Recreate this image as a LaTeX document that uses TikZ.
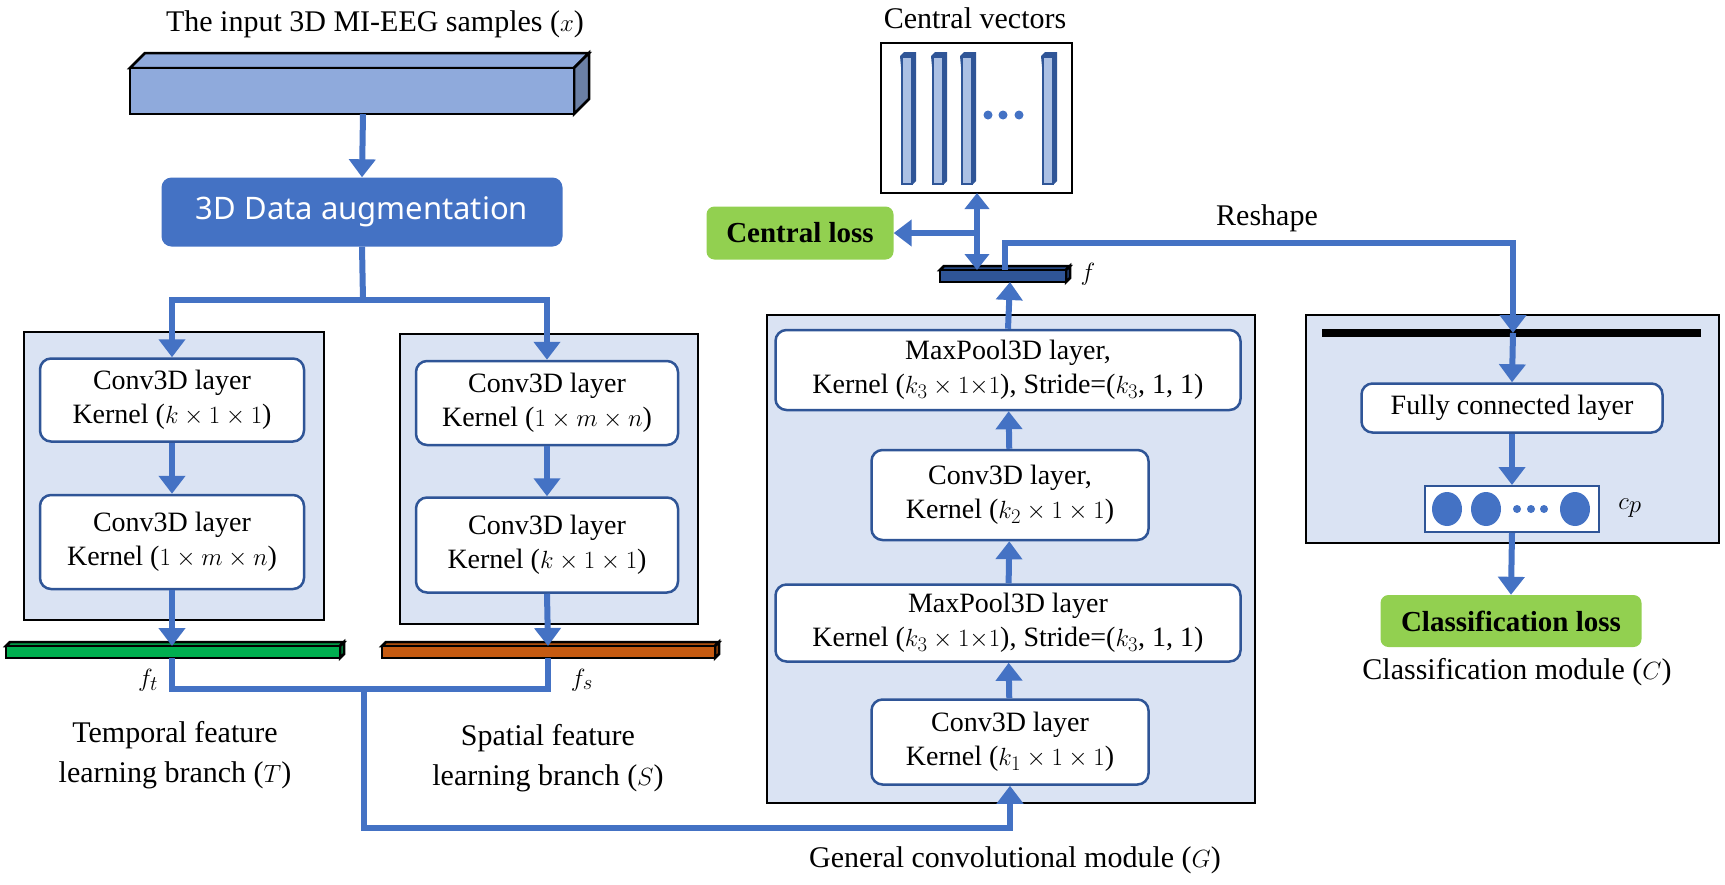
\documentclass[tikz,border=0pt]{standalone}
\usepackage{fontspec}
\setmainfont{Liberation Serif}
\newfontfamily\sansf{Noto Sans}
\usetikzlibrary{arrows.meta,positioning}
\definecolor{ab}{HTML}{4472C4}
\definecolor{pan}{HTML}{DAE3F3}
\definecolor{gr}{HTML}{92D050}
\definecolor{db}{HTML}{2F5597}
\definecolor{inc}{HTML}{8FAADC}
\definecolor{grn}{HTML}{00B050}
\definecolor{org}{HTML}{C55A11}
\begin{document}
\begin{tikzpicture}[x=1pt,y=-1pt,
  panel/.style={draw=black,line width=2.5pt,fill=pan},
  box/.style={draw=db,line width=2.5pt,fill=white,rounded corners=11pt,align=center,font=\fontsize{28}{34}\selectfont,inner sep=2pt},
  arr/.style={draw=ab,line width=6pt,-{Triangle[length=18pt,width=26pt]}},
  ln/.style={draw=ab,line width=6pt},
  lbl/.style={font=\fontsize{30}{40}\selectfont,align=center},
  loss/.style={fill=gr,rounded corners=8pt,font=\bfseries\fontsize{29}{34}\selectfont}]
\useasboundingbox (0,0) rectangle (1725,884);
\newcommand\myslab[6]{% x1 y1 x2 y2 depth fill
  \colorlet{slabc}{#6}\colorlet{slabd}{slabc!75!black}
  \fill[slabc,draw=black,line width=2.5pt] (#1,#2) -- ++(#5,-#5) -- (#3+#5,#2-#5) -- (#3,#2) -- cycle;
  \fill[slabd,draw=black,line width=2.5pt] (#3,#2) -- (#3+#5,#2-#5) -- (#3+#5,#4-#5) -- (#3,#4) -- cycle;
  \fill[slabc,draw=black,line width=2.5pt] (#1,#2) rectangle (#3,#4);}
% input
\node[lbl] (tin) at (375,24) {The input 3D MI-EEG samples ($x$)};
\myslab{130}{68}{574}{114}{15}{inc}
\coordinate (inb) at (363,114);
\node[fill=ab,rounded corners=10pt,text=white,font=\sansf\fontsize{31}{36}\selectfont,minimum width=401pt,minimum height=69pt] (aug) at (362,212) {3D Data augmentation};
\draw[arr] (inb) -- (aug.north);
% left panels
\draw[panel] (24,332) rectangle (324,620);
\draw[panel] (400,334) rectangle (698,624);
\node[box,minimum width=264pt,minimum height=83pt] (t1) at (172,400) {Conv3D layer\\Kernel ($k\times1\times1$)};
\node[box,minimum width=264pt,minimum height=94pt] (t2) at (172,542) {Conv3D layer\\Kernel ($1\times m\times n$)};
\node[box,minimum width=262pt,minimum height=84pt] (s1) at (547,403) {Conv3D layer\\Kernel ($1\times m\times n$)};
\node[box,minimum width=262pt,minimum height=95pt] (s2) at (547,545) {Conv3D layer\\Kernel ($k\times1\times1$)};
\coordinate (sp) at (363,300);
\draw[ln] (aug.south) -- (sp);
\draw[arr] (sp) -| (t1.north);
\draw[arr] (sp) -| (s1.north);
\draw[arr] (t1) -- (t2);
\draw[arr] (s1) -- (s2);
\myslab{6}{646}{340}{658}{4}{grn}
\myslab{382}{646}{715}{658}{4}{org}
\coordinate (ftt) at (172,646);
\coordinate (fst) at (548,646);
\draw[arr] (t2.south) -- (ftt);
\draw[arr] (s2.south) -- (fst);
\node[lbl] (ft) at (148,680) {$f_t$};
\node[lbl] (fs) at (582,680) {$f_s$};
\coordinate (ftb) at (172,658);
\coordinate (fsb) at (548,658);
\coordinate (j1) at (172,689);
\coordinate (j2) at (548,689);
\coordinate (j3) at (364,689);
\draw[ln] (ftb) -- (j1) -- (j2) -- (fsb);
\node[lbl] (tl) at (175,755) {Temporal feature\\learning branch ($T$)};
\node[lbl] (sl) at (548,758) {Spatial feature\\learning branch ($S$)};
% G module
\draw[panel] (767,315) rectangle (1255,803);
\node[box,minimum width=465pt,minimum height=80pt] (ga) at (1008,370) {MaxPool3D layer,\\Kernel ($k_3\times1{\times}1$), Stride=($k_3$, 1, 1)};
\node[box,minimum width=277pt,minimum height=90pt] (gb) at (1010,495) {Conv3D layer,\\Kernel ($k_2\times1\times1$)};
\node[box,minimum width=465pt,minimum height=77pt] (gc) at (1008,623) {MaxPool3D layer\\Kernel ($k_3\times1{\times}1$), Stride=($k_3$, 1, 1)};
\node[box,minimum width=277pt,minimum height=85pt] (gd) at (1010,742) {Conv3D layer\\Kernel ($k_1\times1\times1$)};
\coordinate (j4) at (364,828);
\coordinate (j5) at (1010,828);
\draw[arr] (j3) -- (j4) -- (j5) -- (gd.south);
\draw[arr] (gd) -- (gc);
\draw[arr] (gc) -- (gb);
\draw[arr] (gb) -- (ga);
\node[lbl] (gl) at (1015,860) {General convolutional module ($G$)};
% f bar
\myslab{940}{270}{1066}{282}{4}{db}
\coordinate (fbot) at (1010,282);
\draw[arr] (ga.north) -- (fbot);
\node[lbl] (fl) at (1088,274) {$f$};
% central vectors
\node[lbl] (cvt) at (975,18) {Central vectors};
\draw[black,line width=2.5pt,fill=white] (881,43) rectangle (1072,193);
\foreach \xx in {900,931,960,1041}{
  \fill[db] (\xx,56) -- ++(4,-4) -- ++(12,0) -- ++(0,129) -- ++(-4,4) -- cycle;
  \fill[ab!45,draw=db,line width=2pt] (\xx+2,57) rectangle (\xx+12,184);}
\foreach \xx in {988,1003,1019}{\fill[ab] (\xx,115) circle (4.5pt);}
\coordinate (cvb) at (977,193);
\coordinate (fup) at (977,270);
\coordinate (cj) at (977,233);
\draw[draw=ab,line width=6pt,{Triangle[length=16pt,width=24pt]}-{Triangle[length=16pt,width=24pt]}] (cvb) -- (fup);
\node[loss,minimum width=187pt,minimum height=53pt] (cl) at (800,233) {Central loss};
\draw[arr] (cj) -- (cl.east);
% reshape
\node[lbl] (rs) at (1267,218) {Reshape};
\draw[panel] (1306,315) rectangle (1719,543);
\draw[black,line width=8pt] (1322,333) -- (1701,333);
\coordinate (ftop) at (1005,270);
\coordinate (r1) at (1005,243);
\coordinate (r2) at (1513,243);
\coordinate (r3) at (1513,333);
\draw[arr] (ftop) -- (r1) -- (r2) -- (r3);
\node[box,minimum width=301pt,minimum height=49pt] (fc) at (1512,408) {Fully connected layer};
\draw[arr] (r3) -- (fc.north);
\node[draw=db,line width=2pt,fill=white,minimum width=174pt,minimum height=46pt] (cp) at (1512,509) {};
\foreach \xx in {1447,1486,1575}{\fill[ab] (\xx,509) ellipse (15pt and 17pt);}
\foreach \xx in {1517,1531,1544}{\fill[ab] (\xx,509) circle (4pt);}
\node[lbl,font=\fontsize{36}{40}\selectfont] (cpl) at (1630,508) {$c_p$};
\draw[arr] (fc.south) -- (cp.north);
\node[loss,minimum width=261pt,minimum height=52pt] (clsl) at (1511,621) {Classification loss};
\draw[arr] (cp.south) -- (clsl.north);
\node[lbl] (cml) at (1517,672) {Classification module ($C$)};
\end{tikzpicture}
\end{document}
